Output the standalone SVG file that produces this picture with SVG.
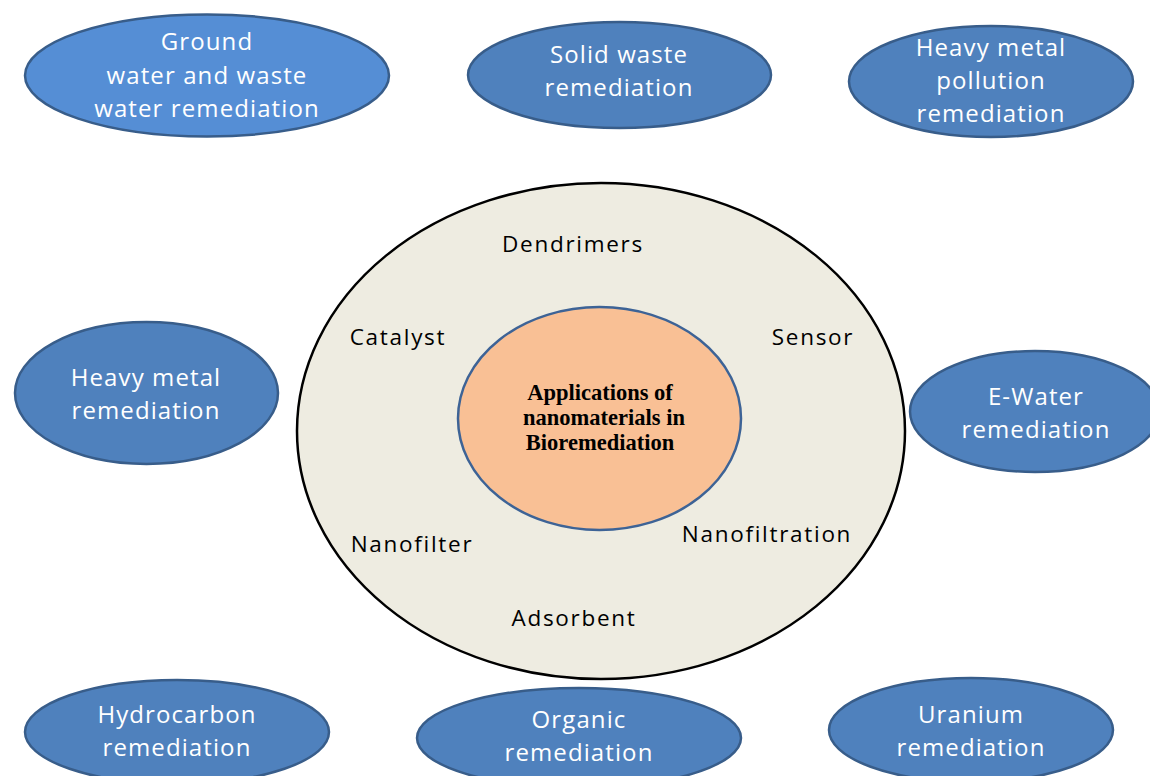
<svg xmlns="http://www.w3.org/2000/svg" width="1150" height="776" viewBox="0 0 1150 776">
<style>
.out{fill:#4F81BD;stroke:#385D8A;stroke-width:2.5}
.wt{font-family:"Open Sans",Lato,sans-serif;font-size:24px;letter-spacing:1.1px;fill:#fff;text-anchor:middle}
.bt{font-family:"Open Sans",Lato,sans-serif;font-size:22.5px;letter-spacing:1.7px;fill:#000;text-anchor:middle}
.ct{font-family:"Liberation Serif",serif;font-weight:bold;font-size:22.5px;fill:#000;text-anchor:middle}
</style>
<rect width="1150" height="776" fill="#fff"/>
<g id="ring">
<ellipse cx="601" cy="431" rx="304" ry="248" fill="#EEECE1" stroke="#000" stroke-width="2.5"/>
<text class="bt" x="573" y="252">Dendrimers</text>
<text class="bt" x="398" y="345">Catalyst</text>
<text class="bt" x="813" y="345">Sensor</text>
<text class="bt" x="412" y="552">Nanofilter</text>
<text class="bt" x="767" y="542">Nanofiltration</text>
<text class="bt" x="574" y="626">Adsorbent</text>
</g>
<g id="center">
<ellipse cx="599.5" cy="418.5" rx="141.5" ry="111.5" fill="#F9C095" stroke="#3D6396" stroke-width="2.5"/>
<text class="ct" x="600" y="400">Applications of</text>
<text class="ct" x="604" y="425">nanomaterials in</text>
<text class="ct" x="600" y="450">Bioremediation</text>
</g>
<g id="ground">
<ellipse cx="207" cy="75.5" rx="182" ry="61" fill="#558ED5" stroke="#385D8A" stroke-width="2.5"/>
<text class="wt" x="207" y="50">Ground</text>
<text class="wt" x="207" y="84">water and waste</text>
<text class="wt" x="207" y="117">water remediation</text>
</g>
<g id="solid">
<ellipse class="out" cx="619.5" cy="75" rx="151.5" ry="53"/>
<text class="wt" x="619" y="63">Solid waste</text>
<text class="wt" x="619" y="96">remediation</text>
</g>
<g id="hmpollution">
<ellipse class="out" cx="991" cy="81.5" rx="142" ry="55.5"/>
<text class="wt" x="991" y="56">Heavy metal</text>
<text class="wt" x="991" y="89">pollution</text>
<text class="wt" x="991" y="122">remediation</text>
</g>
<g id="hmremediation">
<ellipse class="out" cx="146.5" cy="393" rx="131.5" ry="71"/>
<text class="wt" x="146" y="386">Heavy metal</text>
<text class="wt" x="146" y="419">remediation</text>
</g>
<g id="ewater">
<ellipse class="out" cx="1035" cy="411.5" rx="125" ry="60.5"/>
<text class="wt" x="1036" y="405">E-Water</text>
<text class="wt" x="1036" y="438">remediation</text>
</g>
<g id="hydrocarbon">
<ellipse class="out" cx="177" cy="732" rx="152" ry="52"/>
<text class="wt" x="177" y="723">Hydrocarbon</text>
<text class="wt" x="177" y="756">remediation</text>
</g>
<g id="organic">
<ellipse class="out" cx="579" cy="738" rx="162" ry="50"/>
<text class="wt" x="579" y="728">Organic</text>
<text class="wt" x="579" y="761">remediation</text>
</g>
<g id="uranium">
<ellipse class="out" cx="971" cy="730" rx="142" ry="52"/>
<text class="wt" x="971" y="723">Uranium</text>
<text class="wt" x="971" y="756">remediation</text>
</g>
<g id="connectors"/>
</svg>
